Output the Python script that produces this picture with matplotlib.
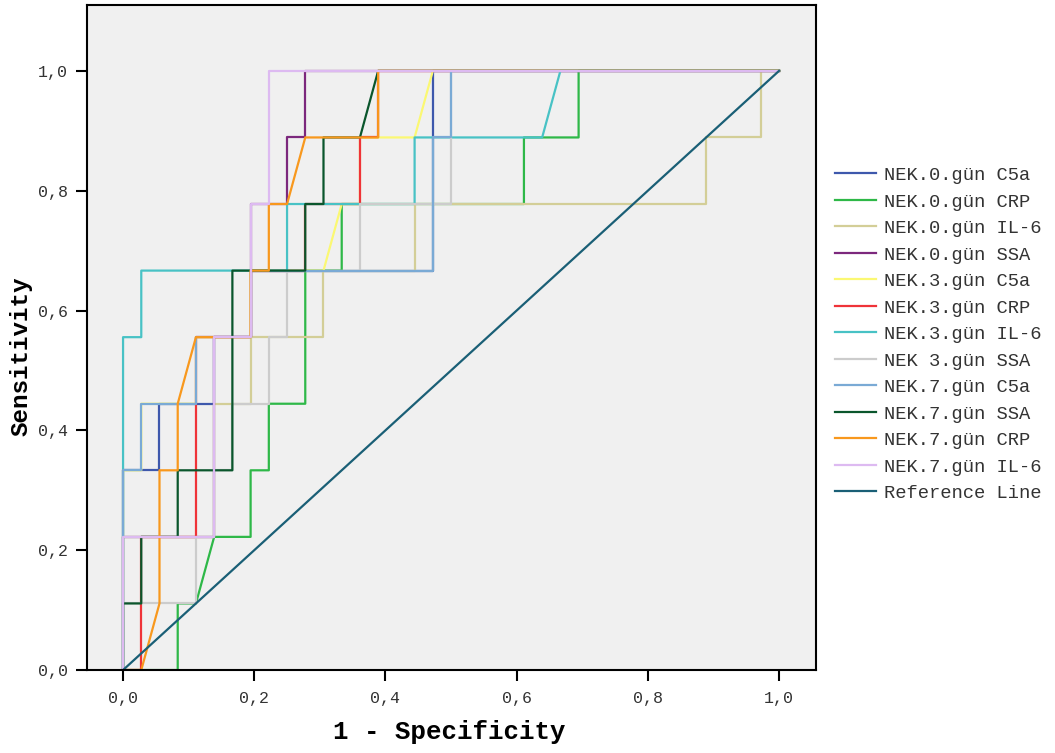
import matplotlib
matplotlib.use('Agg')
import matplotlib.pyplot as plt
import numpy as np

# ROC steps: false positives (of 36 negatives) and true positives (of 9 positives)
n_neg = 36
n_pos = 9

c5a_0_fp = [0, 0, 2, 2, 5, 5, 7, 7, 17, 17, 36]
c5a_0_tp = [0, 3, 3, 4, 4, 5, 5, 6, 6, 9, 9]
crp_0_fp = [0, 3, 3, 4, 5, 7, 7, 8, 8, 10, 10, 12, 12, 22, 22, 25, 25, 36]
crp_0_tp = [0, 0, 1, 1, 2, 2, 3, 3, 4, 4, 6, 6, 7, 7, 8, 8, 9, 9]
il6_0_fp = [0, 0, 5, 5, 7, 7, 11, 11, 16, 16, 32, 32, 35, 35, 36]
il6_0_tp = [0, 2, 2, 4, 4, 5, 5, 6, 6, 7, 7, 8, 8, 9, 9]
ssa_0_fp = [0, 0, 5, 5, 7, 7, 9, 9, 10, 10, 36]
ssa_0_tp = [0, 2, 2, 5, 5, 7, 7, 8, 8, 9, 9]
c5a_3_fp = [0, 0, 1, 1, 4, 4, 7, 7, 11, 12, 13, 13, 16, 17, 36]
c5a_3_tp = [0, 3, 3, 4, 4, 5, 5, 6, 6, 7, 7, 8, 8, 9, 9]
crp_3_fp = [0, 1, 1, 4, 4, 7, 7, 10, 10, 13, 13, 14, 14, 36]
crp_3_tp = [0, 0, 2, 2, 5, 5, 6, 6, 7, 7, 8, 8, 9, 9]
il6_3_fp = [0, 0, 1, 1, 9, 9, 16, 16, 23, 24, 36]
il6_3_tp = [0, 5, 5, 6, 6, 7, 7, 8, 8, 9, 9]
ssa_3_fp = [0, 0, 4, 4, 5, 5, 6, 6, 8, 8, 9, 9, 13, 13, 18, 18, 36]
ssa_3_tp = [0, 1, 1, 2, 2, 3, 3, 4, 4, 5, 5, 6, 6, 7, 7, 9, 9]
c5a_7_fp = [0, 0, 1, 1, 4, 4, 7, 7, 17, 17, 18, 18, 36]
c5a_7_tp = [0, 3, 3, 4, 4, 5, 5, 6, 6, 8, 8, 9, 9]
ssa_7_fp = [0, 0, 1, 1, 3, 3, 6, 6, 10, 10, 11, 11, 13, 14, 36]
ssa_7_tp = [0, 1, 1, 2, 2, 3, 3, 6, 6, 7, 7, 8, 8, 9, 9]
crp_7_fp = [0, 1, 2, 2, 3, 3, 4, 7, 7, 8, 8, 9, 10, 14, 14, 36]
crp_7_tp = [0, 0, 1, 3, 3, 4, 5, 5, 6, 6, 7, 7, 8, 8, 9, 9]
il6_7_fp = [0, 0, 5, 5, 7, 7, 8, 8, 36]
il6_7_tp = [0, 2, 2, 5, 5, 7, 7, 9, 9]

labels = ['NEK.0.gün C5a', 'NEK.0.gün CRP', 'NEK.0.gün IL-6', 'NEK.0.gün SSA',
          'NEK.3.gün C5a', 'NEK.3.gün CRP', 'NEK.3.gün IL-6', 'NEK 3.gün SSA',
          'NEK.7.gün C5a', 'NEK.7.gün SSA', 'NEK.7.gün CRP', 'NEK.7.gün IL-6']
curves = [(c5a_0_fp, c5a_0_tp), (crp_0_fp, crp_0_tp), (il6_0_fp, il6_0_tp), (ssa_0_fp, ssa_0_tp),
          (c5a_3_fp, c5a_3_tp), (crp_3_fp, crp_3_tp), (il6_3_fp, il6_3_tp), (ssa_3_fp, ssa_3_tp),
          (c5a_7_fp, c5a_7_tp), (ssa_7_fp, ssa_7_tp), (crp_7_fp, crp_7_tp), (il6_7_fp, il6_7_tp)]
colors = ['#3e58ac', '#2eb848', '#d3ce97', '#7c287d', '#fbf873', '#ef3338',
          '#48c2c5', '#cccccc', '#7aaad5', '#0a562c', '#f8981d', '#ddbaf1']
ref_color = '#1a5f76'

ticks = [0.0, 0.2, 0.4, 0.6, 0.8, 1.0]
tick_labels = ['0,0', '0,2', '0,4', '0,6', '0,8', '1,0']

mono = ['Liberation Mono', 'DejaVu Sans Mono']

fig = plt.figure(figsize=(10.55, 7.53), dpi=100)
ax = fig.add_axes([0.0825, 0.1102, 0.691, 0.8832])
ax.set_facecolor('#f0f0f0')

for (fp, tp), lab, col in zip(curves, labels, colors):
    ax.plot(np.array(fp) / n_neg, np.array(tp) / n_pos, color=col, lw=1.6, label=lab)
ax.plot([0, 1], [0, 1], color=ref_color, lw=1.6, label='Reference Line')

ax.set_xlim(-0.0549, 1.0564)
ax.set_ylim(0, 1.110)
ax.set_xticks(ticks)
ax.set_xticklabels(tick_labels, family=mono, fontsize=12, color='#333333')
ax.set_yticks(ticks)
ax.set_yticklabels(tick_labels, family=mono, fontsize=12, color='#333333')
ax.tick_params(direction='out', length=8, width=1.5)
ax.tick_params(axis='x', pad=7)
ax.tick_params(axis='y', pad=6)
for s in ax.spines.values():
    s.set_linewidth(1.5)

ax.set_xlabel('1 - Specificity', family=mono, fontsize=18.5, fontweight='bold')
ax.set_ylabel('Sensitivity', family=mono, fontsize=17.5, fontweight='bold')
ax.xaxis.label.set_va('center')
ax.yaxis.label.set_va('center')
ax.xaxis.set_label_coords(0.497, -0.093)
ax.yaxis.set_label_coords(-0.09, 0.472)

leg = fig.legend(loc='center left', bbox_to_anchor=(0.7915, 0.5558), frameon=False,
                 prop={'family': mono, 'size': 13.5}, handlelength=2.2,
                 handletextpad=0.42, labelspacing=0.5, borderpad=0, borderaxespad=0)
for t in leg.get_texts():
    t.set_color('#333333')

fig.savefig('out.png', dpi=100, facecolor='white')
